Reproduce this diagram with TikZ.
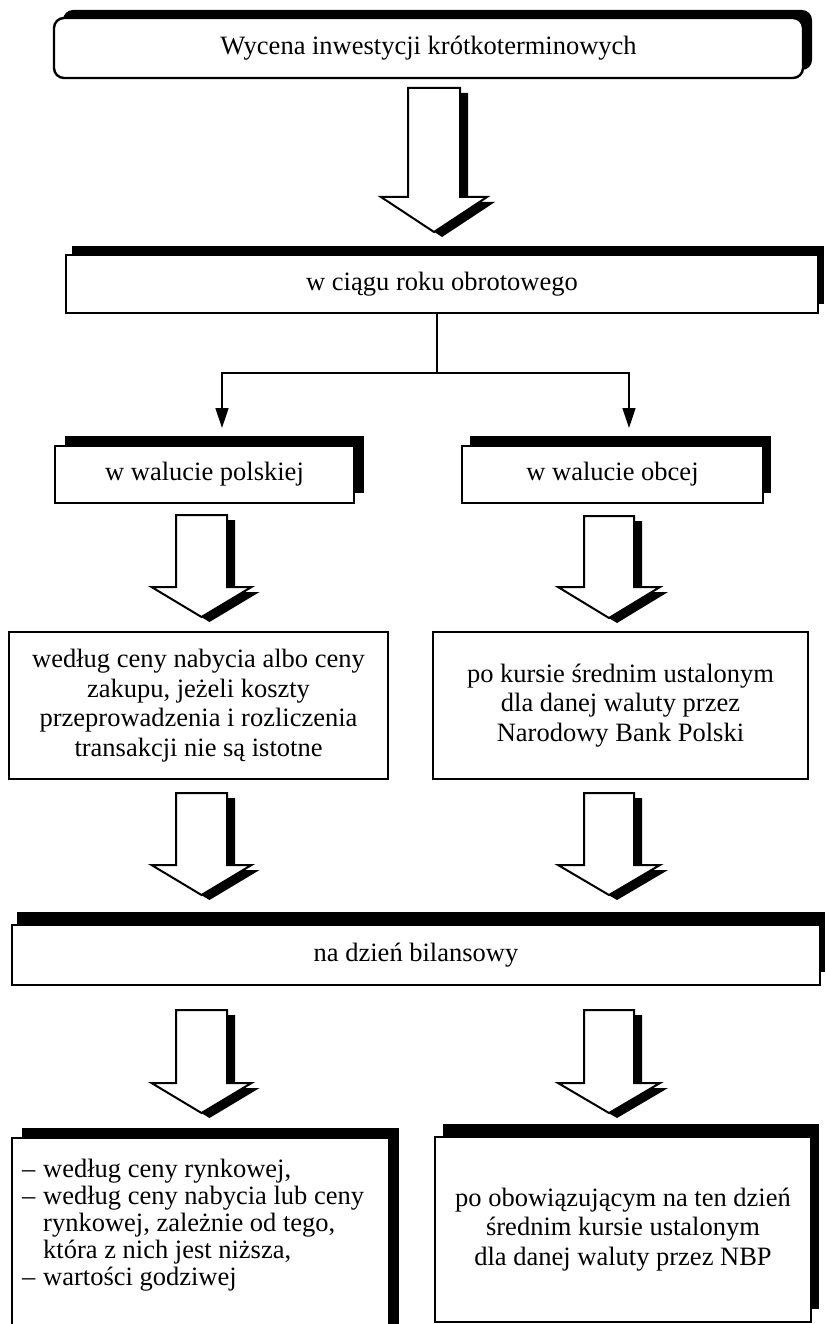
\documentclass[tikz,border=0pt]{standalone}
\usepackage{fontspec}
\setmainfont{Liberation Serif}
\usetikzlibrary{shadows,arrows.meta}

% hollow block arrow with a solid offset shadow
% #1 centre x, #2 top, #3 shoulder, #4 tip, #5 half shaft width, #6 half head width
\newcommand\blockarrow[6]{%
  \begin{scope}[shift={(8,5)}]
    \fill[black] ({#1-#5},#2) -- ({#1+#5},#2) -- ({#1+#5},#3) -- ({#1+#6},#3)
      -- (#1,#4) -- ({#1-#6},#3) -- ({#1-#5},#3) -- cycle;
  \end{scope}
  \draw[line width=2pt, fill=white, line join=miter]
    ({#1-#5},#2) -- ({#1+#5},#2) -- ({#1+#5},#3) -- ({#1+#6},#3)
    -- (#1,#4) -- ({#1-#6},#3) -- ({#1-#5},#3) -- cycle;
}

\begin{document}
\begin{tikzpicture}[x=1pt,y=-1pt,
  box/.style={draw, line width=2.4pt, fill=white, align=center, inner sep=0pt,
    font=\fontsize{26.5}{29.5}\selectfont},
  hardshadow/.style 2 args={general shadow={fill=black, shadow xshift=#1pt, shadow yshift=#2pt}},
  link/.style={line width=1.4pt},
  tip/.style={-{Triangle[width=13pt,length=20pt]}},
]
\useasboundingbox (0,0) rectangle (825,1324);

% title
\node[box, rounded corners=10pt, minimum width=749pt, minimum height=60pt, hardshadow={9}{8}]
  (title) at (428.5,48) {Wycena inwestycji krótkoterminowych};
\blockarrow{434}{88}{197}{232}{26}{53}

% during the financial year
\node[box, minimum width=752pt, minimum height=58pt, hardshadow={6}{9}]
  (year) at (442,284) {w ciągu roku obrotowego};

\coordinate (fork) at (437,373);
\coordinate (tipL) at (222,428);
\coordinate (tipR) at (629,428);
\draw[link] (year.south -| fork) -- (fork);
\draw[link, tip] (fork) -| (tipL);
\draw[link, tip] (fork) -| (tipR);

\node[box, minimum width=299pt, minimum height=57pt, hardshadow={10}{10}]
  (pln) at (204.5,474.5) {w walucie polskiej};
\node[box, minimum width=301pt, minimum height=57pt, hardshadow={8}{10}]
  (fx) at (612.5,474.5) {w walucie obcej};

\blockarrow{201.5}{515}{587}{617}{25.5}{50}
\blockarrow{609}{516}{587}{618}{25}{51}

\node[box, line width=2pt, minimum width=379pt, minimum height=147pt]
  (cost) at (198.5,705.5) {według ceny nabycia albo ceny\\zakupu, jeżeli koszty\\przeprowadzenia i rozliczenia\\transakcji nie są istotne};
\node[box, line width=2pt, minimum width=375pt, minimum height=147pt]
  (rate) at (620.5,705.5) {po kursie średnim ustalonym\\dla danej waluty przez\\Narodowy Bank Polski};

\blockarrow{201.5}{793}{865}{895}{25.5}{50}
\blockarrow{609}{793}{865}{895}{25}{51}

% balance sheet date
\node[box, minimum width=808pt, minimum height=60pt, hardshadow={5}{13}]
  (bs) at (416,955) {na dzień bilansowy};

\blockarrow{201.5}{1010}{1083}{1113}{25.5}{50}
\blockarrow{609}{1010}{1083}{1113}{25}{51}

\node[box, minimum width=377pt, minimum height=202pt, hardshadow={10}{10}]
  (market) at (200.5,1239) {};
% the node's base is the baseline of its last line
\node[anchor=base west, align=left, inner sep=0pt, font=\fontsize{26.5}{27}\selectfont]
  (marketText) at (22,1285)
  {\makebox[21pt][l]{–}według ceny rynkowej,\\
   \makebox[21pt][l]{–}według ceny nabycia lub ceny\\
   \hspace*{21pt}rynkowej, zależnie od tego,\\
   \hspace*{21pt}która z nich jest niższa,\\
   \makebox[21pt][l]{–}wartości godziwej};

\node[box, minimum width=376pt, minimum height=185pt, hardshadow={8}{13}]
  (nbp) at (623,1229.5) {po obowiązującym na ten dzień\\średnim kursie ustalonym\\dla danej waluty przez NBP};
\end{tikzpicture}
\end{document}
